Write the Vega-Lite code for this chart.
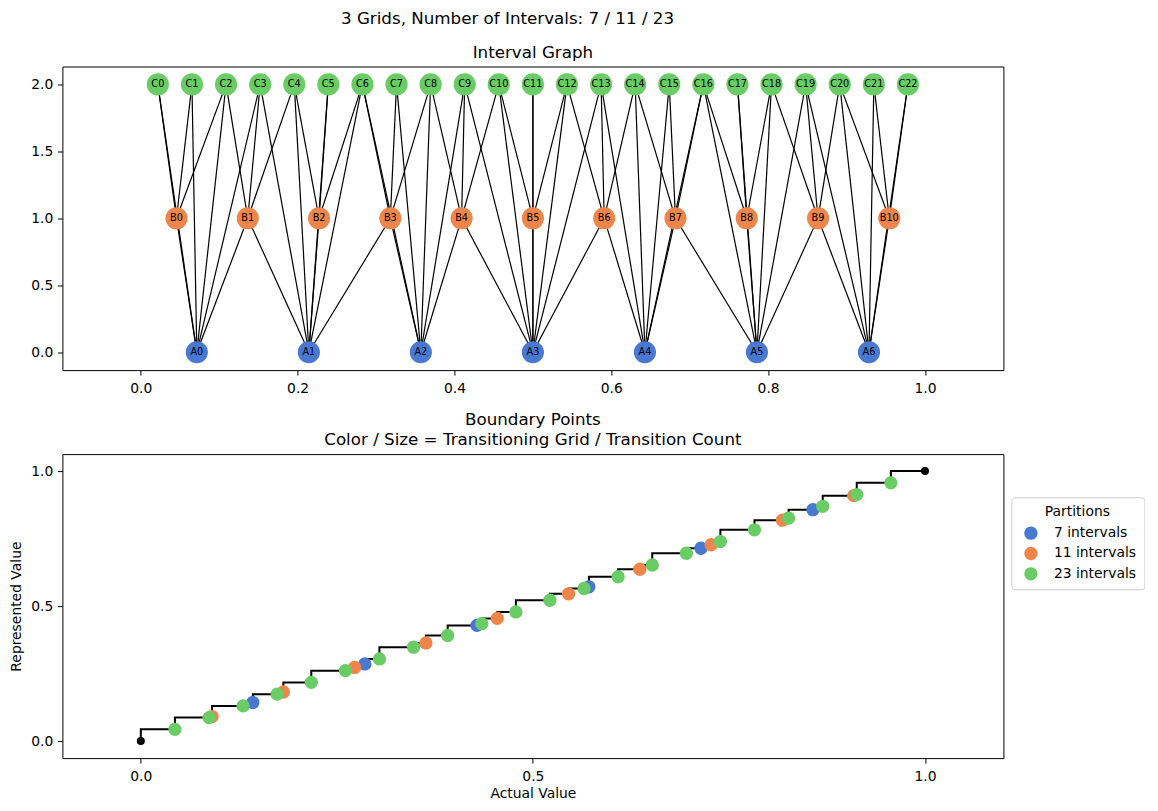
{
  "$schema": "https://vega.github.io/schema/vega-lite/v6.json",
  "padding": {"left": 8.4, "top": 10.5, "right": 0, "bottom": 0},
  "title": {"text": "3 Grids, Number of Intervals: 7 / 11 / 23", "anchor": "start", "dx": 332, "offset": 16.6},
  "datasets": {
    "nodes": [
      {"id": "A0", "grid": "A", "x": 0.0714, "y": 0}, {"id": "A1", "grid": "A", "x": 0.2143, "y": 0},
      {"id": "A2", "grid": "A", "x": 0.3571, "y": 0}, {"id": "A3", "grid": "A", "x": 0.5, "y": 0},
      {"id": "A4", "grid": "A", "x": 0.6429, "y": 0}, {"id": "A5", "grid": "A", "x": 0.7857, "y": 0},
      {"id": "A6", "grid": "A", "x": 0.9286, "y": 0},
      {"id": "B0", "grid": "B", "x": 0.0455, "y": 1}, {"id": "B1", "grid": "B", "x": 0.1364, "y": 1},
      {"id": "B2", "grid": "B", "x": 0.2273, "y": 1}, {"id": "B3", "grid": "B", "x": 0.3182, "y": 1},
      {"id": "B4", "grid": "B", "x": 0.4091, "y": 1}, {"id": "B5", "grid": "B", "x": 0.5, "y": 1},
      {"id": "B6", "grid": "B", "x": 0.5909, "y": 1}, {"id": "B7", "grid": "B", "x": 0.6818, "y": 1},
      {"id": "B8", "grid": "B", "x": 0.7727, "y": 1}, {"id": "B9", "grid": "B", "x": 0.8636, "y": 1},
      {"id": "B10", "grid": "B", "x": 0.9545, "y": 1},
      {"id": "C0", "grid": "C", "x": 0.0217, "y": 2}, {"id": "C1", "grid": "C", "x": 0.0652, "y": 2},
      {"id": "C2", "grid": "C", "x": 0.1087, "y": 2}, {"id": "C3", "grid": "C", "x": 0.1522, "y": 2},
      {"id": "C4", "grid": "C", "x": 0.1957, "y": 2}, {"id": "C5", "grid": "C", "x": 0.2391, "y": 2},
      {"id": "C6", "grid": "C", "x": 0.2826, "y": 2}, {"id": "C7", "grid": "C", "x": 0.3261, "y": 2},
      {"id": "C8", "grid": "C", "x": 0.3696, "y": 2}, {"id": "C9", "grid": "C", "x": 0.413, "y": 2},
      {"id": "C10", "grid": "C", "x": 0.4565, "y": 2}, {"id": "C11", "grid": "C", "x": 0.5, "y": 2},
      {"id": "C12", "grid": "C", "x": 0.5435, "y": 2}, {"id": "C13", "grid": "C", "x": 0.587, "y": 2},
      {"id": "C14", "grid": "C", "x": 0.6304, "y": 2}, {"id": "C15", "grid": "C", "x": 0.6739, "y": 2},
      {"id": "C16", "grid": "C", "x": 0.7174, "y": 2}, {"id": "C17", "grid": "C", "x": 0.7609, "y": 2},
      {"id": "C18", "grid": "C", "x": 0.8043, "y": 2}, {"id": "C19", "grid": "C", "x": 0.8478, "y": 2},
      {"id": "C20", "grid": "C", "x": 0.8913, "y": 2}, {"id": "C21", "grid": "C", "x": 0.9348, "y": 2},
      {"id": "C22", "grid": "C", "x": 0.9783, "y": 2}
    ],
    "edges": [
      {"source": "A0", "target": "B0"}, {"source": "A0", "target": "B1"}, {"source": "A1", "target": "B1"},
      {"source": "A1", "target": "B2"}, {"source": "A1", "target": "B3"}, {"source": "A2", "target": "B3"},
      {"source": "A2", "target": "B4"}, {"source": "A3", "target": "B4"}, {"source": "A3", "target": "B5"},
      {"source": "A3", "target": "B6"}, {"source": "A4", "target": "B6"}, {"source": "A4", "target": "B7"},
      {"source": "A5", "target": "B7"}, {"source": "A5", "target": "B8"}, {"source": "A5", "target": "B9"},
      {"source": "A6", "target": "B9"}, {"source": "A6", "target": "B10"},
      {"source": "A0", "target": "C0"}, {"source": "A0", "target": "C1"}, {"source": "A0", "target": "C2"}, {"source": "A0", "target": "C3"},
      {"source": "A1", "target": "C3"}, {"source": "A1", "target": "C4"}, {"source": "A1", "target": "C5"}, {"source": "A1", "target": "C6"},
      {"source": "A2", "target": "C6"}, {"source": "A2", "target": "C7"}, {"source": "A2", "target": "C8"}, {"source": "A2", "target": "C9"},
      {"source": "A3", "target": "C9"}, {"source": "A3", "target": "C10"}, {"source": "A3", "target": "C11"}, {"source": "A3", "target": "C12"}, {"source": "A3", "target": "C13"},
      {"source": "A4", "target": "C13"}, {"source": "A4", "target": "C14"}, {"source": "A4", "target": "C15"}, {"source": "A4", "target": "C16"},
      {"source": "A5", "target": "C16"}, {"source": "A5", "target": "C17"}, {"source": "A5", "target": "C18"}, {"source": "A5", "target": "C19"},
      {"source": "A6", "target": "C19"}, {"source": "A6", "target": "C20"}, {"source": "A6", "target": "C21"}, {"source": "A6", "target": "C22"},
      {"source": "B0", "target": "C0"}, {"source": "B0", "target": "C1"}, {"source": "B0", "target": "C2"},
      {"source": "B1", "target": "C2"}, {"source": "B1", "target": "C3"}, {"source": "B1", "target": "C4"},
      {"source": "B2", "target": "C4"}, {"source": "B2", "target": "C5"}, {"source": "B2", "target": "C6"},
      {"source": "B3", "target": "C6"}, {"source": "B3", "target": "C7"}, {"source": "B3", "target": "C8"},
      {"source": "B4", "target": "C8"}, {"source": "B4", "target": "C9"}, {"source": "B4", "target": "C10"},
      {"source": "B5", "target": "C10"}, {"source": "B5", "target": "C11"}, {"source": "B5", "target": "C12"},
      {"source": "B6", "target": "C12"}, {"source": "B6", "target": "C13"}, {"source": "B6", "target": "C14"},
      {"source": "B7", "target": "C14"}, {"source": "B7", "target": "C15"}, {"source": "B7", "target": "C16"},
      {"source": "B8", "target": "C16"}, {"source": "B8", "target": "C17"}, {"source": "B8", "target": "C18"},
      {"source": "B9", "target": "C18"}, {"source": "B9", "target": "C19"}, {"source": "B9", "target": "C20"},
      {"source": "B10", "target": "C20"}, {"source": "B10", "target": "C21"}, {"source": "B10", "target": "C22"}
    ],
    "boundaries": [
      {"actual": 0.1429, "represented": 0.1429, "partition": "7 intervals"},
      {"actual": 0.2857, "represented": 0.2857, "partition": "7 intervals"},
      {"actual": 0.4286, "represented": 0.4286, "partition": "7 intervals"},
      {"actual": 0.5714, "represented": 0.5714, "partition": "7 intervals"},
      {"actual": 0.7143, "represented": 0.7143, "partition": "7 intervals"},
      {"actual": 0.8571, "represented": 0.8571, "partition": "7 intervals"},
      {"actual": 0.0909, "represented": 0.0909, "partition": "11 intervals"},
      {"actual": 0.1818, "represented": 0.1818, "partition": "11 intervals"},
      {"actual": 0.2727, "represented": 0.2727, "partition": "11 intervals"},
      {"actual": 0.3636, "represented": 0.3636, "partition": "11 intervals"},
      {"actual": 0.4545, "represented": 0.4545, "partition": "11 intervals"},
      {"actual": 0.5455, "represented": 0.5455, "partition": "11 intervals"},
      {"actual": 0.6364, "represented": 0.6364, "partition": "11 intervals"},
      {"actual": 0.7273, "represented": 0.7273, "partition": "11 intervals"},
      {"actual": 0.8182, "represented": 0.8182, "partition": "11 intervals"},
      {"actual": 0.9091, "represented": 0.9091, "partition": "11 intervals"},
      {"actual": 0.0435, "represented": 0.0435, "partition": "23 intervals"},
      {"actual": 0.087, "represented": 0.087, "partition": "23 intervals"},
      {"actual": 0.1304, "represented": 0.1304, "partition": "23 intervals"},
      {"actual": 0.1739, "represented": 0.1739, "partition": "23 intervals"},
      {"actual": 0.2174, "represented": 0.2174, "partition": "23 intervals"},
      {"actual": 0.2609, "represented": 0.2609, "partition": "23 intervals"},
      {"actual": 0.3043, "represented": 0.3043, "partition": "23 intervals"},
      {"actual": 0.3478, "represented": 0.3478, "partition": "23 intervals"},
      {"actual": 0.3913, "represented": 0.3913, "partition": "23 intervals"},
      {"actual": 0.4348, "represented": 0.4348, "partition": "23 intervals"},
      {"actual": 0.4783, "represented": 0.4783, "partition": "23 intervals"},
      {"actual": 0.5217, "represented": 0.5217, "partition": "23 intervals"},
      {"actual": 0.5652, "represented": 0.5652, "partition": "23 intervals"},
      {"actual": 0.6087, "represented": 0.6087, "partition": "23 intervals"},
      {"actual": 0.6522, "represented": 0.6522, "partition": "23 intervals"},
      {"actual": 0.6957, "represented": 0.6957, "partition": "23 intervals"},
      {"actual": 0.7391, "represented": 0.7391, "partition": "23 intervals"},
      {"actual": 0.7826, "represented": 0.7826, "partition": "23 intervals"},
      {"actual": 0.8261, "represented": 0.8261, "partition": "23 intervals"},
      {"actual": 0.8696, "represented": 0.8696, "partition": "23 intervals"},
      {"actual": 0.913, "represented": 0.913, "partition": "23 intervals"},
      {"actual": 0.9565, "represented": 0.9565, "partition": "23 intervals"},
      {"actual": 0, "represented": 0, "partition": "end"},
      {"actual": 1, "represented": 1, "partition": "end"}
    ]
  },
  "spacing": 15.6,
  "resolve": {"scale": {"color": "independent"}, "legend": {"color": "independent"}},
  "vconcat": [
    {
      "width": 941,
      "height": 303.6,
      "title": {"text": "Interval Graph", "offset": 4.7},
      "data": {"name": "nodes"},
      "encoding": {
        "x": {"field": "x", "type": "quantitative", "scale": {"domain": [-0.1, 1.1], "nice": false, "zero": false}, "axis": {"values": [0, 0.2, 0.4, 0.6, 0.8, 1.0], "format": ".1f", "title": null}},
        "y": {"field": "y", "type": "quantitative", "scale": {"domain": [-0.1336, 2.1336], "nice": false, "zero": false}, "axis": {"values": [0, 0.5, 1, 1.5, 2], "format": ".1f", "title": null}}
      },
      "layer": [
        {
          "data": {"name": "edges"},
          "transform": [
            {"lookup": "source", "from": {"data": {"name": "nodes"}, "key": "id", "fields": ["x", "y"]}, "as": ["x", "y"]},
            {"lookup": "target", "from": {"data": {"name": "nodes"}, "key": "id", "fields": ["x", "y"]}, "as": ["x2", "y2"]}
          ],
          "mark": {"type": "rule", "color": "black", "strokeWidth": 1.2},
          "encoding": {"x2": {"field": "x2"}, "y2": {"field": "y2"}}
        },
        {
          "mark": {"type": "circle", "size": 490, "opacity": 1},
          "encoding": {
            "color": {"field": "grid", "type": "nominal", "scale": {"domain": ["A", "B", "C"], "range": ["#4878d0", "#ee854a", "#6acc64"]}, "legend": null}
          }
        },
        {
          "mark": {"type": "text", "fontSize": 9.7, "color": "black", "align": "center", "baseline": "middle"},
          "encoding": {"text": {"field": "id"}}
        }
      ]
    },
    {
      "width": 941,
      "height": 304,
      "title": {"text": ["Boundary Points", "Color / Size = Transitioning Grid / Transition Count"], "offset": 5.6, "lineHeight": 20},
      "data": {"name": "boundaries"},
      "encoding": {
        "x": {"field": "actual", "type": "quantitative", "scale": {"domain": [-0.1, 1.1], "nice": false, "zero": false}, "axis": {"values": [0, 0.5, 1], "format": ".1f", "title": "Actual Value"}},
        "y": {"field": "represented", "type": "quantitative", "scale": {"domain": [-0.063, 1.063], "nice": false, "zero": false}, "axis": {"values": [0, 0.5, 1], "format": ".1f", "title": "Represented Value"}}
      },
      "layer": [
        {
          "mark": {"type": "line", "interpolate": "step-before", "color": "black", "strokeWidth": 2},
          "encoding": {"order": {"field": "actual", "type": "quantitative"}}
        },
        {
          "transform": [{"filter": "datum.partition !== 'end'"}],
          "mark": {"type": "circle", "size": 177, "opacity": 1},
          "encoding": {
            "color": {
              "field": "partition", "type": "nominal",
              "scale": {"domain": ["7 intervals", "11 intervals", "23 intervals"], "range": ["#4878d0", "#ee854a", "#6acc64"]},
              "legend": {
                "title": "Partitions", "orient": "none", "legendX": 949, "legendY": 43.2,
                "titleAnchor": "middle", "padding": 8, "symbolOffset": 4.5, "labelOffset": 16,
                "rowPadding": 6.3, "titlePadding": 7, "symbolSize": 177, "symbolType": "circle",
                "symbolStrokeWidth": 0, "symbolOpacity": 1, "strokeColor": "#cccccc", "cornerRadius": 3, "fillColor": "white",
                "titleFontSize": 13.9, "titleFontWeight": "normal", "titleColor": "black",
                "labelFontSize": 13.9, "labelColor": "black"
              }
            }
          }
        },
        {
          "transform": [{"filter": "datum.partition === 'end'"}],
          "mark": {"type": "circle", "size": 64, "opacity": 1, "color": "black"}
        }
      ]
    }
  ],
  "config": {
    "font": "DejaVu Sans",
    "view": {"stroke": "black", "strokeWidth": 1},
    "axis": {
      "domain": false, "grid": false, "ticks": true, "tickColor": "black", "tickSize": 5, "tickWidth": 1,
      "labelColor": "black", "labelFontSize": 13.9, "labelFont": "DejaVu Sans",
      "titleFontSize": 13.9, "titleFontWeight": "normal", "titleColor": "black", "titleFont": "DejaVu Sans"
    },
    "axisX": {"labelPadding": 6, "titlePadding": 4},
    "axisY": {"labelPadding": 4.6, "titlePadding": 7.2},
    "title": {"fontSize": 16.7, "fontWeight": "normal", "color": "black", "font": "DejaVu Sans"}
  }
}
